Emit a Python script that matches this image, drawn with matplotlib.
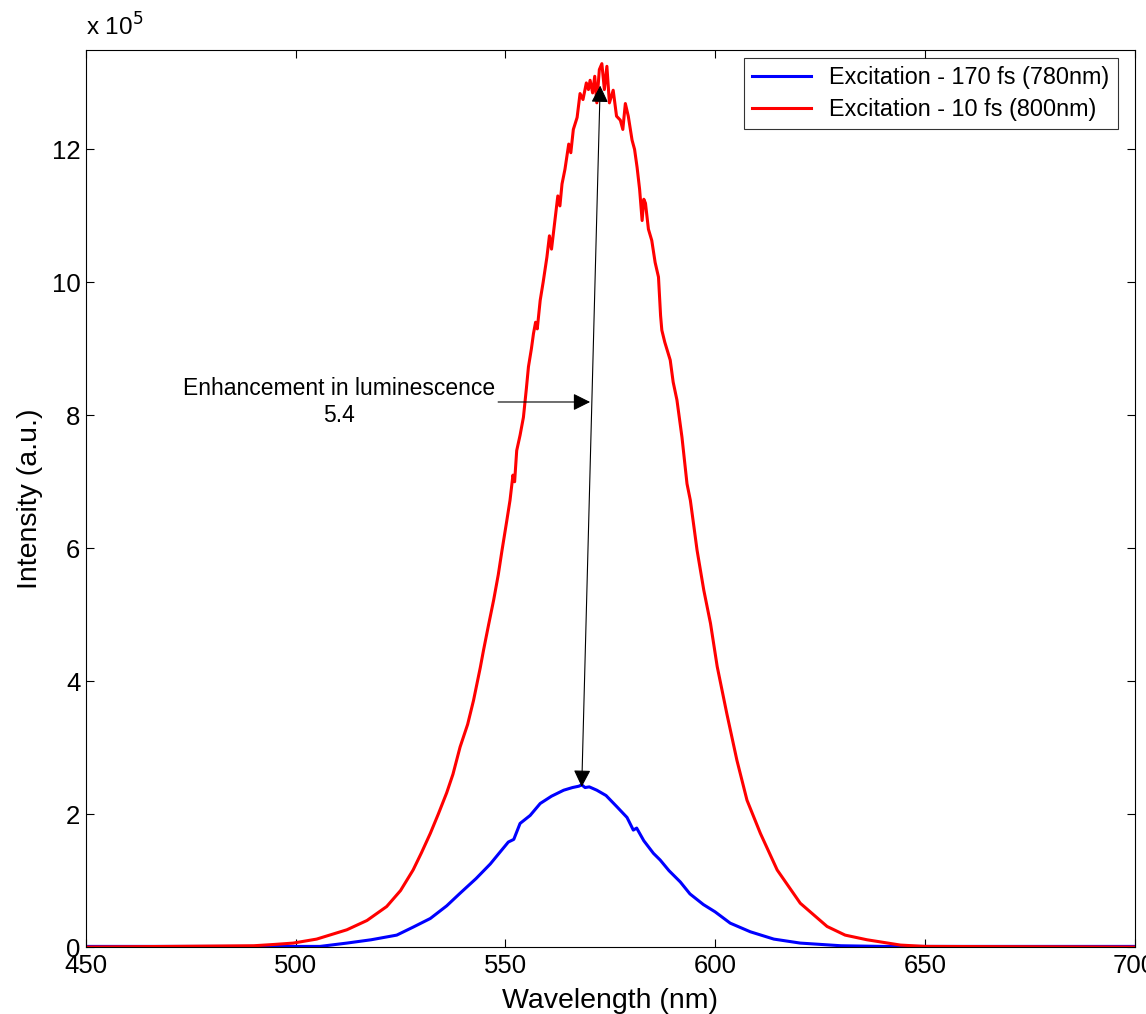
import numpy as np
import matplotlib
matplotlib.use("Agg")
import matplotlib.pyplot as plt
from matplotlib.ticker import FuncFormatter

plt.rcParams['font.family'] = ['Liberation Sans', 'DejaVu Sans']

# luminescence spectra, intensity in units of 1e5
red_wl = [450, 470, 490, 495, 499.4, 505, 512.2, 517, 521.7, 525, 528, 530, 532.1, 534, 536,
          537.5, 539.2, 541, 542.4, 544, 544.8, 546, 547.2, 548.3, 549.2, 550.3, 551.1, 551.8,
          552.2, 552.7, 553.5, 554.3, 555, 555.5, 556.2, 556.7, 557.2, 557.6, 558.3, 559,
          559.9, 560.5, 561, 561.9, 562.5, 563, 563.5, 564.2, 565.1, 565.6, 566.2, 567.1,
          567.8, 568.5, 569.3, 569.8, 570.2, 570.8, 571.3, 571.8, 572.4, 573.0, 573.6, 574.2,
          574.8, 575.7, 576.5, 577.4, 578, 578.6, 579.3, 580.2, 580.8, 581.4, 582.0, 582.6,
          583.0, 583.4, 584.1, 584.9, 585.7, 586.5, 587.0, 587.3, 588, 589.3, 590, 590.9,
          592.1, 593.3, 594.1, 595, 595.7, 597.3, 598.9, 600.5, 602.8, 605.2, 607.6, 610.8,
          614.8, 620.3, 626.7, 631, 636.2, 644.2, 650, 700]
red_int = [0.0, 0.01, 0.02, 0.04, 0.06, 0.12, 0.26, 0.4, 0.61, 0.85, 1.16, 1.42, 1.71, 2.0, 2.32,
           2.6, 3.01, 3.35, 3.71, 4.2, 4.47, 4.85, 5.22, 5.6, 5.97, 6.4, 6.72, 7.1,
           7.0, 7.47, 7.7, 7.97, 8.4, 8.73, 9.0, 9.23, 9.4, 9.3, 9.73, 10.0,
           10.38, 10.7, 10.5, 10.98, 11.3, 11.15, 11.48, 11.7, 12.08, 11.95, 12.3, 12.48,
           12.84, 12.75, 13.0, 12.9, 13.04, 12.85, 13.1, 12.7, 13.2, 13.29, 12.9, 13.25,
           12.7, 12.89, 12.5, 12.44, 12.3, 12.69, 12.5, 12.14, 12.0, 11.73, 11.4, 10.93,
           11.25, 11.19, 10.8, 10.63, 10.3, 10.08, 9.5, 9.28, 9.1, 8.83, 8.5, 8.23,
           7.67, 6.97, 6.72, 6.3, 5.97, 5.37, 4.87, 4.22, 3.51, 2.81, 2.21, 1.71,
           1.16, 0.66, 0.31, 0.18, 0.11, 0.03, 0.01, 0.0]

blue_wl = [450, 505.8, 512.2, 518, 524.1, 528, 532.1, 536, 539.2, 543, 546.4, 549, 550.7, 552,
           553.5, 555.9, 558.3, 561, 563.9, 566, 567.5, 568.2, 569, 570, 571.8, 574, 576.6,
           579, 580.5, 581.3, 583, 585.3, 586.9, 589, 591.7, 594, 597.2, 600, 603.6, 608.4,
           614, 620.3, 630, 640, 700]
blue_int = [0.01, 0.01, 0.06, 0.11, 0.18, 0.3, 0.43, 0.62, 0.81, 1.03, 1.25, 1.45, 1.58, 1.62,
            1.86, 1.98, 2.16, 2.27, 2.36, 2.4, 2.42, 2.44, 2.4, 2.41, 2.36, 2.28, 2.11,
            1.95, 1.76, 1.79, 1.6, 1.41, 1.31, 1.15, 0.98, 0.8, 0.64, 0.53, 0.36, 0.23,
            0.12, 0.06, 0.02, 0.01, 0.01]

fig = plt.figure(figsize=(11.46, 10.14), dpi=100)
ax = fig.add_axes([0.075, 0.066, 0.915, 0.885])

ax.plot(blue_wl, blue_int, color='#0000ff', lw=2.2, label='Excitation - 170 fs (780nm)')
ax.plot(red_wl, red_int, color='#ff0000', lw=2.2, label='Excitation - 10 fs (800nm)')

# double arrow between the two peaks
ax.annotate('', xy=(572.6, 12.96), xytext=(568.2, 2.41),
            arrowprops=dict(arrowstyle='<|-|>', color='black', lw=0.8,
                            mutation_scale=26, shrinkA=0, shrinkB=0))
# text arrow
ax.annotate('Enhancement in luminescence\n5.4', xy=(570.2, 8.2), xytext=(547.6, 8.2),
            ha='right', va='center', multialignment='center', fontsize=16.5,
            arrowprops=dict(arrowstyle='-|>', color='black', lw=0.8,
                            mutation_scale=26, shrinkA=0, shrinkB=0))

ax.set_xlim(450, 700)
ax.set_ylim(0, 13.5)
ax.set_xticks([450, 500, 550, 600, 650, 700])
ax.set_yticks([0, 2, 4, 6, 8, 10, 12])
ax.yaxis.set_major_formatter(FuncFormatter(lambda v, p: f"{v:g}"))
ax.tick_params(direction='in', top=True, right=True, length=5.5, width=0.8,
               labelsize=18.5)
ax.tick_params(axis='x', pad=5)
ax.tick_params(axis='y', pad=4)
ax.text(0, 1.01, 'x 10$^5$', transform=ax.transAxes, fontsize=17.5, ha='left', va='bottom')

ax.set_xlabel('Wavelength (nm)', fontsize=20.5, labelpad=7)
ax.set_ylabel('Intensity (a.u.)', fontsize=20.5, labelpad=6)

leg = ax.legend(loc='upper right', fontsize=16.8, frameon=True, fancybox=False,
                edgecolor='black', handlelength=2.5, borderpad=0.35, labelspacing=0.4,
                borderaxespad=0, bbox_to_anchor=(0.984, 0.991))
leg.get_frame().set_linewidth(0.8)

fig.savefig('out.png', dpi=100)
